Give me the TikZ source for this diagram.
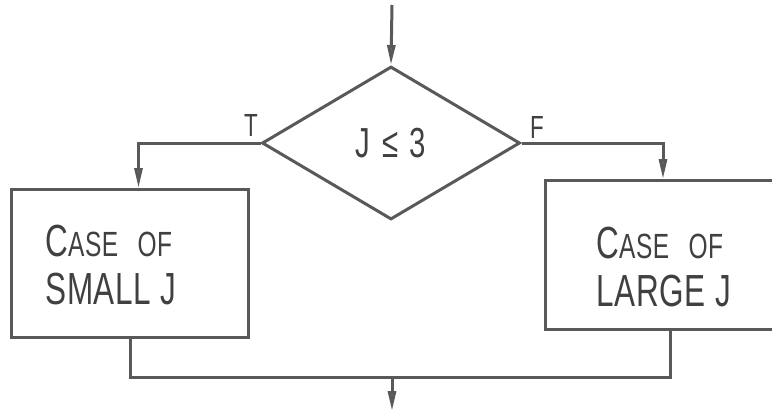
\documentclass[tikz,border=0pt]{standalone}
\usepackage{fontspec}
\setmainfont{Liberation Sans}
\newfontfamily\letterfont[FakeStretch=0.7, LetterSpace=1.5]{Liberation Sans}
\usetikzlibrary{shapes.geometric, arrows.meta, positioning}
\tikzset{
	flowline/.style={draw=black!65, line width=1.5pt}
}
\tikzset{
	flowarrow/.style={flowline, -{Triangle[length=10pt, width=4pt, fill=black!55]}}
}
\tikzset{
	decision/.style={diamond, flowline, inner sep=0pt, minimum width=129pt, minimum height=76.5pt,
		font=\letterfont\fontsize{21}{22}\selectfont, text=black!75},
	procbox/.style={rectangle, flowline, inner sep=0pt, anchor=north west},
	boxtext/.style={align=left, inner sep=0pt, anchor=west, text=black!75,
		font=\letterfont\fontsize{22.5}{24}\selectfont},
	branchlabel/.style={inner sep=0pt, text=black!75, font=\letterfont\fontsize{16}{18}\selectfont}
}
\newcommand{\smcap}[1]{{\fontsize{17.5}{24}\selectfont #1}}

\begin{document}
\begin{tikzpicture}[x=0.5pt, y=-0.5pt]
  \useasboundingbox (0,0) rectangle (772,413);
  \clip (0,0) rectangle (772,413);
  % test
  \coordinate (start) at (392,5);
  \node[decision] (test) at (391,143) {J\;≤\;3};
  \draw[flowarrow] (start) -- (test.north);
  \node[branchlabel] (tlab) at (251,125) {T};
  \node[branchlabel] (flab) at (537,127) {F};
  % the two cases
  \node[procbox, minimum width=118.5pt, minimum height=74pt] (small) at (10,188) {};
  \node[procbox, minimum width=153pt, minimum height=74.5pt] (large) at (544,179) {};
  \node[boxtext] (smalltext) at (45,265) {C\smcap{ASE\hspace{6pt} OF}\\SMALL J};
  \node[boxtext] (largetext) at (596,267) {C\smcap{ASE\hspace{6pt} OF}\\LARGE J};
  \draw[flowarrow] (test.west) -| ([xshift=4.25pt]small.north);
  \draw[flowarrow] (test.east) -| ([xshift=59.5pt]large.north west);
  % join
  \coordinate (join) at (392,377);
  \coordinate (end) at (392,411);
  \draw[flowline] (small.south) |- (join) -| ([xshift=63pt]large.south west);
  \draw[flowarrow] (join) -- (end);
\end{tikzpicture}
\end{document}
